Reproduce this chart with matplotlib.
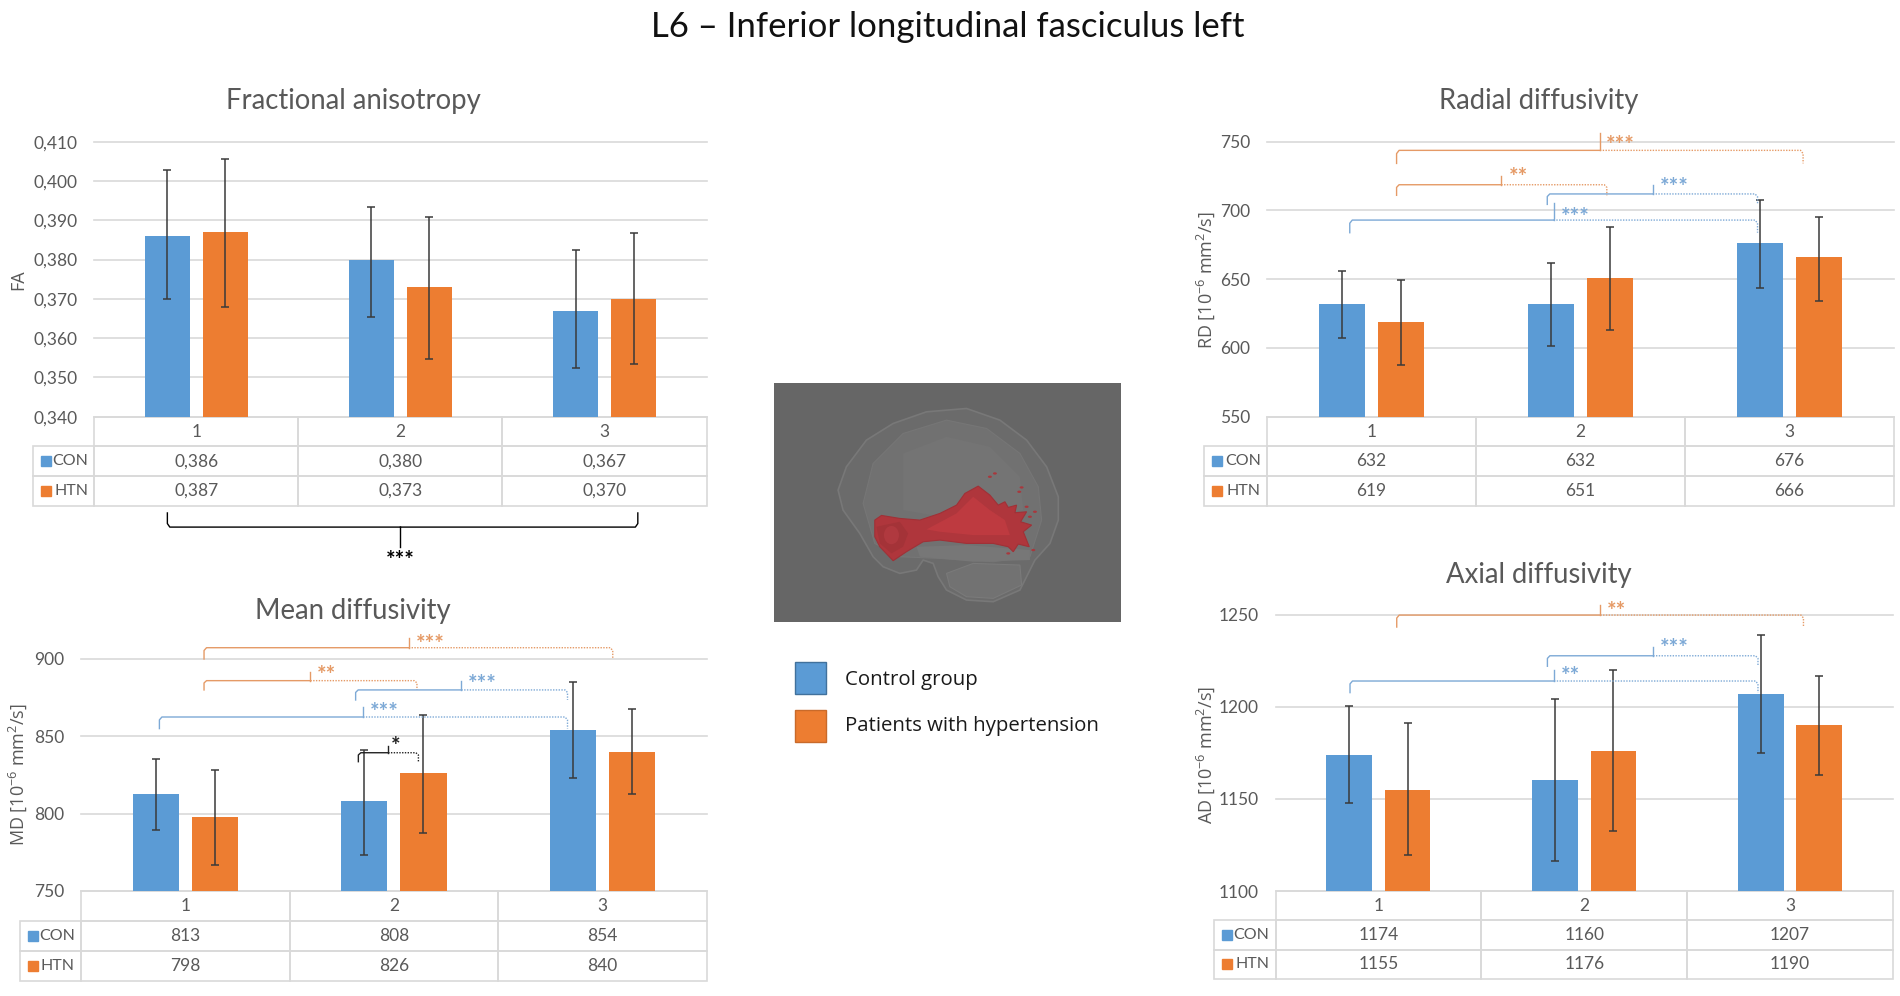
import numpy as np
import matplotlib
matplotlib.use("Agg")
import matplotlib.pyplot as plt
from matplotlib.patches import Polygon, Ellipse, Rectangle
from matplotlib.table import Table

plt.rcParams['font.family'] = ['Lato', 'DejaVu Sans']
plt.rcParams['mathtext.default'] = 'regular'

W, H = 1900, 996
BLUE = '#5B9BD5'
ORANGE = '#ED7D31'
GRID = '#D9D9D9'
TXT = '#595959'
STAR_O = '#E59A66'
STAR_B = '#7DA9D6'

groups = ['1', '2', '3']
series_names = ['CON', 'HTN']

fa_con = [0.386, 0.380, 0.367]
fa_htn = [0.387, 0.373, 0.370]
fa_con_hi = [0.4028, 0.3935, 0.3824]
fa_con_lo = [0.3699, 0.3655, 0.3523]
fa_htn_hi = [0.4056, 0.3908, 0.3868]
fa_htn_lo = [0.3678, 0.3548, 0.3535]
fa_ticks = [0.34, 0.35, 0.36, 0.37, 0.38, 0.39, 0.40, 0.41]

md_con = [813, 808, 854]
md_htn = [798, 826, 840]
md_con_hi = [835.1, 841.2, 884.9]
md_con_lo = [789.4, 773.0, 822.8]
md_htn_hi = [828.0, 863.6, 867.7]
md_htn_lo = [766.8, 787.3, 812.8]
md_ticks = [750, 800, 850, 900]

rd_con = [632, 632, 676]
rd_htn = [619, 651, 666]
rd_con_hi = [656.2, 661.8, 707.6]
rd_con_lo = [607.0, 601.2, 643.3]
rd_htn_hi = [649.2, 688.0, 695.2]
rd_htn_lo = [587.3, 612.8, 634.4]
rd_ticks = [550, 600, 650, 700, 750]

ad_con = [1174, 1160, 1207]
ad_htn = [1155, 1176, 1190]
ad_con_hi = [1200.4, 1204.4, 1238.8]
ad_con_lo = [1147.6, 1116.4, 1175.0]
ad_htn_hi = [1191.0, 1219.8, 1216.7]
ad_htn_lo = [1119.6, 1132.6, 1162.8]
ad_ticks = [1100, 1150, 1200, 1250]

fig = plt.figure(figsize=(W / 100, H / 100), dpi=100, facecolor='white')


def px_axes(x0, y0, x1, y1):
    # pixel box, y counted from the top of the picture
    return fig.add_axes([x0 / W, 1 - y1 / H, (x1 - x0) / W, (y1 - y0) / H])


def panel(box, leg_x, table_y, con, htn, con_hi, con_lo, htn_hi, htn_lo, ticks, fmt, title, title_xy, ylabel, ylabel_xy):
    x0, y0, x1, y1 = box
    ax = px_axes(x0, y0, x1, y1)
    xs = np.arange(3)
    w = 0.222
    off = 0.142
    for vals, hi, lo, c, sgn in [(con, con_hi, con_lo, BLUE, -1), (htn, htn_hi, htn_lo, ORANGE, 1)]:
        pos = xs + sgn * off
        ax.bar(pos, vals, width=w, color=c, zorder=2)
        vals = np.array(vals)
        ax.errorbar(pos, vals, yerr=[vals - np.array(lo), np.array(hi) - vals], fmt='none',
                    ecolor='#3A3A3A', elinewidth=1.1, capsize=3.2, capthick=1.1, zorder=3)
    ax.set_xlim(-0.5, 2.5)
    ax.set_ylim(ticks[0], ticks[-1])
    ax.set_yticks(ticks)
    ax.set_yticklabels([fmt(t) for t in ticks], fontsize=12.5, color=TXT)
    ax.set_xticks([])
    ax.tick_params(axis='y', length=0, pad=12)
    ax.yaxis.grid(True, color=GRID, lw=1.2, clip_on=False)
    ax.set_axisbelow(True)
    for s in ax.spines.values():
        s.set_visible(False)

    # data table under the bars
    ax_w = x1 - x0
    ax_h = y1 - y0
    bbox = [(leg_x - x0) / ax_w, (y1 - table_y) / ax_h, (x1 - leg_x) / ax_w, (table_y - y1) / ax_h]
    cells = [[fmt(v) for v in con], [fmt(v) for v in htn]]
    tb = Table(ax, bbox=bbox)
    col = ax_w / 3
    lab = x0 - leg_x
    row = 1 / 3
    for j, g in enumerate(groups):
        tb.add_cell(0, j + 1, width=col, height=row, text=g, loc='center')
    for i, name in enumerate(series_names):
        tb.add_cell(i + 1, 0, width=lab, height=row, text=name, loc='right')
        for j in range(3):
            tb.add_cell(i + 1, j + 1, width=col, height=row, text=cells[i][j], loc='center')
    tb.auto_set_font_size(False)
    tb.set_fontsize(12.5)
    for (r, c), cell in tb.get_celld().items():
        cell.set_edgecolor(GRID)
        cell.set_linewidth(1.2)
        cell.get_text().set_color(TXT)
        cell.set_facecolor('none')
        if c == 0:
            cell.get_text().set_fontsize(11.5)
    ax.add_table(tb)
    row_h = (table_y - y1) / 3
    for i, c in enumerate([BLUE, ORANGE]):
        yc = y1 + row_h * (i + 1.5)
        fig.add_artist(Rectangle(((leg_x + 8) / W, 1 - (yc + 5) / H), 9.5 / W, 10 / H, color=c,
                                 transform=fig.transFigure))
    fig.text(title_xy[0] / W, 1 - title_xy[1] / H, title, fontsize=19.8, color=TXT, ha='center', va='center')
    fig.text(ylabel_xy[0] / W, 1 - ylabel_xy[1] / H, ylabel, fontsize=13, color=TXT, rotation=90,
             ha='center', va='center', family=['Open Sans', 'DejaVu Sans'])
    return ax


def bracket(ax, xa, xb, xs, y, yend, ystem, color, stars, sx, sy, right=(0, (1, 1))):
    # left half drawn solid, right half dotted, as in the figure
    dx = 0.012
    dy = (y - yend) * 0.25
    kw = dict(color=color, lw=1.0, clip_on=False, zorder=4)
    ax.plot([xa, xa, xa + dx, xs], [yend, y - dy, y, y], ls='-', **kw)
    ax.plot([xs, xb - dx, xb, xb], [y, y, y - dy, yend], ls=right, **kw)
    ax.plot([xs, xs], [y, ystem], ls='-', **kw)
    ax.annotate(stars, (sx, sy), xytext=(0, -5), textcoords='offset points', color=color, fontsize=16,
                fontweight='bold', ha='center', va='center', annotation_clip=False, zorder=4)


comma3 = lambda v: f'{v:.3f}'.replace('.', ',')
plain = lambda v: f'{v:d}'

ax_fa = panel((94.3, 141.7, 706.6, 416.7), 33, 506, fa_con, fa_htn, fa_con_hi, fa_con_lo, fa_htn_hi, fa_htn_lo,
              fa_ticks, comma3, 'Fractional anisotropy', (353, 101), 'FA', (18, 280))
ax_md = panel((81, 659, 706.6, 891), 20, 981, md_con, md_htn, md_con_hi, md_con_lo, md_htn_hi, md_htn_lo,
              md_ticks, plain, 'Mean diffusivity', (353, 611), r'MD [10$^{-6}$ mm$^{2}$/s]', (18, 775))
ax_rd = panel((1267, 141.7, 1894, 416.7), 1204, 506, rd_con, rd_htn, rd_con_hi, rd_con_lo, rd_htn_hi, rd_htn_lo,
              rd_ticks, plain, 'Radial diffusivity', (1539, 101), r'RD [10$^{-6}$ mm$^{2}$/s]', (1206, 280))
ax_ad = panel((1275.5, 614.7, 1893, 891), 1214.4, 979, ad_con, ad_htn, ad_con_hi, ad_con_lo, ad_htn_hi, ad_htn_lo,
              ad_ticks, plain, 'Axial diffusivity', (1539, 575), r'AD [10$^{-6}$ mm$^{2}$/s]', (1206, 755))

# curly bracket under the FA table
bracket(ax_fa, -0.142, 2.163, 1.0, 0.3119, 0.3155, 0.3068, 'black', '***', 1.0, 0.3052, right='-')

bracket(ax_md, 0.09, 2.05, 1.072, 907.3, 900, 913.8, STAR_O, '***', 1.174, 914)
bracket(ax_md, 0.09, 1.111, 0.60, 886, 880, 891.4, STAR_O, '**', 0.679, 894)
bracket(ax_md, 0.817, 1.833, 1.324, 880, 873.5, 885.8, STAR_B, '***', 1.423, 888)
bracket(ax_md, -0.124, 1.833, 0.853, 862.5, 855, 869, STAR_B, '***', 0.955, 869.6)
bracket(ax_md, 0.83, 1.118, 0.973, 839.4, 833.6, 843.8, '#222222', '*', 1.007, 848)

bracket(ax_rd, 0.12, 2.065, 1.093, 743.7, 734.2, 756, STAR_O, '***', 1.192, 752)
bracket(ax_rd, 0.12, 1.126, 0.621, 718.7, 711, 725, STAR_O, '**', 0.704, 729)
bracket(ax_rd, 0.841, 1.847, 1.346, 712, 704.4, 718.2, STAR_B, '***', 1.447, 722)
bracket(ax_rd, -0.104, 1.847, 0.871, 693, 683.8, 705.6, STAR_B, '***', 0.973, 700)

bracket(ax_ad, 0.089, 2.065, 1.078, 1249.8, 1243.3, 1255.2, STAR_O, '**', 1.156, 1255.6)
bracket(ax_ad, 0.821, 1.844, 1.335, 1227.7, 1222, 1232.5, STAR_B, '***', 1.438, 1235.3)
bracket(ax_ad, -0.138, 1.844, 0.853, 1214, 1207.7, 1220, STAR_B, '**', 0.933, 1220)

# brain picture in the middle, sketched from polygons
ax_b = px_axes(774, 383.5, 1120.7, 621.7)
ax_b.set_xlim(43, 1082)
ax_b.set_ylim(755, 40)
ax_b.set_xticks([])
ax_b.set_yticks([])
ax_b.set_facecolor('#666666')
for s in ax_b.spines.values():
    s.set_visible(False)
brain = [(340, 560), (300, 490), (250, 420), (235, 360), (260, 290), (320, 210), (400, 160), (500, 125), (620, 115),
         (720, 150), (800, 210), (860, 290), (895, 380), (895, 450), (870, 520), (825, 570), (805, 610), (780, 660),
         (700, 695), (620, 690), (560, 660), (535, 620), (520, 580), (490, 570), (470, 600), (420, 610), (370, 590)]
ax_b.add_patch(Polygon(brain, closed=True, fc='#6B6B6B', ec='#787878', lw=1.2))
inner = [(345, 520), (310, 400), (340, 280), (430, 190), (560, 150), (680, 175), (780, 250), (835, 350), (845, 450),
         (810, 560), (700, 575), (540, 565), (420, 560)]
ax_b.add_patch(Polygon(inner, closed=True, fc='#717171', ec='#767676', lw=0.8))
ax_b.add_patch(Polygon([(430, 250), (560, 200), (690, 230), (780, 320), (790, 420), (600, 450), (430, 420)], closed=True,
                       fc='#747474', ec='none'))
ax_b.add_patch(Polygon([(560, 610), (640, 580), (780, 585), (785, 645), (700, 685), (620, 680), (570, 650)], closed=True,
                       fc='#727272', ec='#7A7A7A', lw=0.8))
ax_b.add_patch(Polygon([(470, 530), (620, 525), (810, 540), (810, 570), (640, 575), (480, 560)], closed=True,
                       fc='#777777', ec='none'))
tract = [(345, 450), (365, 436), (420, 445), (480, 450), (540, 430), (590, 405), (615, 370), (655, 348), (690, 375),
         (715, 405), (735, 395), (745, 412), (770, 405), (765, 428), (800, 425), (782, 455), (815, 465), (790, 485),
         (808, 530), (775, 522), (760, 545), (745, 530), (700, 520), (620, 520), (540, 510), (490, 515), (440, 545),
         (400, 572), (360, 530), (345, 500)]
ax_b.add_patch(Polygon(tract, closed=True, fc='#AF363C', ec='#A03137', lw=0.8))
ax_b.add_patch(Polygon([(500, 478), (590, 430), (640, 380), (690, 420), (735, 450), (750, 495), (640, 495), (540, 485)],
                       closed=True, fc='#BE3A40', ec='none'))
ax_b.add_patch(Polygon([(350, 470), (420, 455), (445, 490), (430, 530), (395, 550), (360, 520)], closed=True,
                       fc='#A43338', ec='none'))
ax_b.add_patch(Ellipse((395, 495), 45, 55, fc='#B0393F', ec='none'))
for sx, sy in [(690, 320), (705, 310), (785, 352), (778, 365), (800, 410), (825, 425), (745, 550), (820, 540), (810, 440)]:
    ax_b.add_patch(Ellipse((sx, sy), 12, 7, fc='#A8383D', ec='none'))

# hand made legend
for top, c, ec, label, dy in [(661.7, BLUE, '#41719C', 'Control group', 18), (710, ORANGE, '#C96A2A', 'Patients with hypertension', 16)]:
    fig.add_artist(Rectangle((794.7 / W, 1 - (top + 32) / H), 31 / W, 32 / H, fc=c, ec=ec, lw=1.0,
                             transform=fig.transFigure))
    fig.text(845 / W, 1 - (top + dy) / H, label, fontsize=14.7, color='#1A1A1A', va='center',
             family=['Open Sans', 'DejaVu Sans'])

fig.text(947.5 / W, 1 - 27 / H, 'L6 – Inferior longitudinal fasciculus left', fontsize=25, color='#111111',
         ha='center', va='center')

fig.savefig('out.png', dpi=100)
